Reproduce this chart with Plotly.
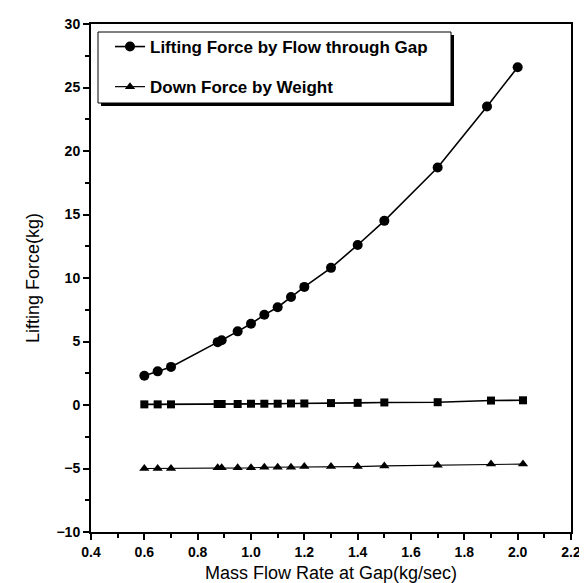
import plotly.graph_objects as go

# Data
x_lift = [0.6, 0.65, 0.7, 0.875, 0.89, 0.95, 1.0, 1.05, 1.1, 1.15, 1.2, 1.3, 1.4, 1.5, 1.7, 1.885, 2.0]
lift_force = [2.3, 2.65, 3.0, 4.95, 5.1, 5.8, 6.4, 7.1, 7.7, 8.5, 9.3, 10.8, 12.6, 14.5, 18.7, 23.5, 26.6]

x_other = [0.6, 0.65, 0.7, 0.875, 0.89, 0.95, 1.0, 1.05, 1.1, 1.15, 1.2, 1.3, 1.4, 1.5, 1.7, 1.9, 2.02]
net_force = [0.05, 0.05, 0.05, 0.08, 0.08, 0.08, 0.1, 0.1, 0.1, 0.12, 0.12, 0.15, 0.17, 0.2, 0.22, 0.35, 0.37]
down_force = [-5.0, -5.0, -5.0, -4.95, -4.95, -4.95, -4.95, -4.9, -4.9, -4.9, -4.85, -4.85, -4.85, -4.8, -4.75, -4.65, -4.65]

x_ticks = [0.4, 0.6, 0.8, 1.0, 1.2, 1.4, 1.6, 1.8, 2.0, 2.2]
x_tick_labels = ["0.4", "0.6", "0.8", "1.0", "1.2", "1.4", "1.6", "1.8", "2.0", "2.2"]
y_ticks = [-10, -5, 0, 5, 10, 15, 20, 25, 30]

fig = go.Figure()
fig.add_trace(go.Scatter(
    x=x_lift, y=lift_force, mode="lines+markers",
    name="<b>Lifting Force by Flow through Gap</b>",
    line=dict(color="black", width=1.6),
    marker=dict(symbol="circle", size=10, color="black"),
    legendgroup="a",
))
fig.add_trace(go.Scatter(
    x=x_other, y=net_force, mode="lines+markers",
    name="net", showlegend=False,
    line=dict(color="black", width=1.6),
    marker=dict(symbol="square", size=8, color="black"),
))
fig.add_trace(go.Scatter(
    x=x_other, y=down_force, mode="lines+markers",
    name="<b>Down Force by Weight</b>",
    line=dict(color="black", width=1.2),
    marker=dict(symbol="triangle-up", size=9, color="black"),
    legendgroup="b",
))

# plot area pixel geometry
L, R, T, B = 83, 563, 16, 524
W, H = R - L, B - T

def px(x):
    return (x - L) / W

def py(y):
    return (B - y) / H

# legend box with drop shadow
bx0, bx1, by0, by1 = 90, 443, 24, 95
fig.add_shape(type="rect", xref="paper", yref="paper",
              x0=px(bx0 + 3), x1=px(bx1 + 3), y0=py(by1 + 3), y1=py(by0 + 3),
              fillcolor="black", line=dict(width=0), layer="above")
fig.add_shape(type="rect", xref="paper", yref="paper",
              x0=px(bx0), x1=px(bx1), y0=py(by1), y1=py(by0),
              fillcolor="white", line=dict(color="black", width=1), layer="above")

axis_common = dict(
    showgrid=False, zeroline=False, showline=True, linecolor="black", linewidth=2,
    mirror=True, ticks="outside", ticklen=6, tickwidth=2, tickcolor="black",
    automargin=False,
    tickfont=dict(family="Liberation Sans", size=14, color="black", weight="bold"),
)

fig.update_xaxes(
    range=[0.4, 2.2], tickvals=x_ticks, ticktext=x_tick_labels,
    title=dict(text="Mass Flow Rate at Gap(kg/sec)",
               font=dict(family="Liberation Sans", size=18, color="black"), standoff=8),
    minor=dict(ticks="outside", ticklen=4, tickwidth=2, tickcolor="black", dtick=0.1),
    **axis_common,
)
fig.update_yaxes(
    range=[-10, 30], tickvals=y_ticks,
    title=dict(text="Lifting Force(kg)",
               font=dict(family="Liberation Sans", size=18, color="black"), standoff=12),
    minor=dict(ticks="outside", ticklen=4, tickwidth=2, tickcolor="black", dtick=2.5),
    **axis_common,
)

fig.update_layout(
    width=587, height=583,
    margin=dict(l=L, r=587 - R, t=T, b=583 - B),
    plot_bgcolor="white", paper_bgcolor="white",
    showlegend=True,
    legend=dict(
        x=px(bx0 + 12), y=py(by0 - 3), xanchor="left", yanchor="top",
        bgcolor="rgba(0,0,0,0)", borderwidth=0,
        font=dict(family="Liberation Sans", size=17, color="black"),
        traceorder="grouped", tracegroupgap=15, itemwidth=30,
    ),
)

fig.write_html("out.html")
